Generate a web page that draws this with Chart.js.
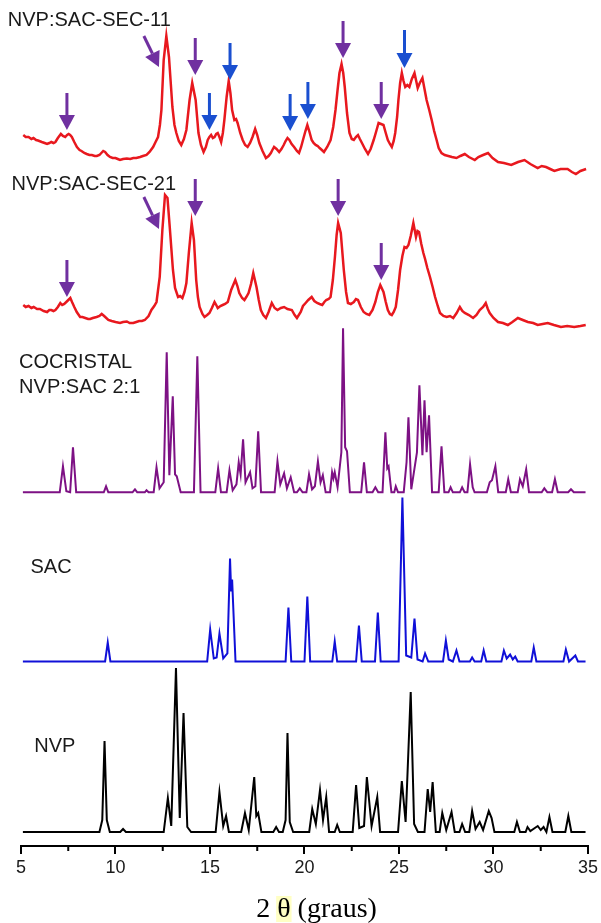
<!DOCTYPE html>
<html lang="pt">
<head>
<meta charset="UTF-8">
<title>DRX NVP:SAC</title>
<script src="https://cdn.jsdelivr.net/npm/chart.js@4.4.0/dist/chart.umd.min.js"></script>
<style>
  body { margin: 0; background: #fff; }
  #box { width: 601px; height: 923px; }
</style>
</head>
<body>
<div id="box"><canvas id="xrd"></canvas></div>
<script>
// 2θ range and ticks
const xMin = 5, xMax = 35;
const majorTicks = [5, 10, 15, 20, 25, 30, 35];
const minorTicks = [7.5, 12.5, 17.5, 22.5, 27.5, 32.5];

// patterns: [2θ, intensity above own baseline]
const nvp = [
  [5.1,0],[9.15,0],[9.3,12],[9.42,91],[9.54,12],[9.7,0],
  [10.25,0],[10.4,3],[10.55,0],
  [12.55,0],[12.77,34],[12.95,6],[13.2,164],[13.4,14],[13.6,119],[13.8,5],[14.0,0],
  [15.3,0],[15.5,40],[15.7,6],[15.85,16],[16.0,0],
  [16.65,0],[16.85,19],[17.05,2],[17.34,55],[17.45,16],[17.55,19],[17.72,0],
  [18.35,0],[18.5,5],[18.65,0],
  [18.85,0],[19.0,12],[19.1,99],[19.22,10],[19.4,0],
  [20.25,0],[20.41,23],[20.6,8],[20.82,42],[20.98,12],[21.15,35],[21.3,0],
  [21.6,0],[21.73,7],[21.87,0],
  [22.55,0],[22.73,47],[22.9,4],[23.15,6],[23.3,55],[23.55,6],[23.85,35],[24.0,0],
  [24.95,0],[25.15,51],[25.35,10],[25.62,140],[25.8,8],[26.0,0],
  [26.35,0],[26.52,43],[26.65,20],[26.78,50],[26.95,0],
  [27.15,0],[27.29,19],[27.5,2],[27.78,20],[27.95,0],
  [28.2,0],[28.34,8],[28.5,0],
  [28.72,0],[28.87,21],[29.05,3],[29.27,10],[29.45,2],[29.75,21],[29.9,14],[30.05,0],
  [31.1,0],[31.24,10],[31.4,0],
  [31.7,0],[31.8,5],[31.95,1],[32.34,6],[32.5,2],[32.65,5],[32.8,0],[32.96,15],[33.12,0],
  [33.8,0],[33.96,16],[34.12,0],[34.87,0]
];

const sac = [
  [5.1,0],[9.45,0],[9.59,19],[9.73,0],
  [14.85,0],[15.01,32],[15.2,3],[15.35,4],[15.5,28],[15.7,3],[15.92,8],[16.06,103],[16.12,70],[16.17,82],[16.35,0],
  [19.0,0],[19.15,54],[19.3,0],
  [20.0,0],[20.15,65],[20.3,0],
  [21.47,0],[21.6,20],[21.73,0],
  [22.73,0],[22.88,36],[23.03,0],
  [23.73,0],[23.88,49],[24.03,0],
  [24.98,0],[25.18,164],[25.38,6],[25.65,4],[25.82,43],[25.98,2],[26.25,0],[26.38,8],[26.55,0],
  [27.33,0],[27.48,21],[27.63,2],[27.85,0],[28.04,11],[28.2,0],
  [28.75,0],[28.87,4],[29.0,0],
  [29.35,0],[29.48,11],[29.62,0],
  [30.42,0],[30.55,11],[30.7,3],[30.88,7],[31.02,2],[31.15,5],[31.28,0],
  [32.0,0],[32.13,14],[32.27,0],
  [33.7,0],[33.83,12],[34.0,0],[34.33,6],[34.47,0],[34.87,0]
];

const cocrystal = [
  [5.1,0],[7.05,0],[7.22,26],[7.4,1],[7.6,0],[7.75,45],[7.92,0],
  [9.38,0],[9.5,6],[9.62,0],
  [10.9,0],[11.03,3],[11.15,0],[11.55,0],[11.64,2],[11.75,0],
  [12.02,0],[12.17,25],[12.33,4],[12.55,10],[12.71,140],[12.85,17],[13.03,96],[13.15,18],[13.24,16],[13.45,0],
  [14.15,0],[14.33,136],[14.5,0],
  [15.28,0],[15.43,24],[15.58,0],
  [15.88,0],[16.03,22],[16.2,2],[16.4,8],[16.52,30],[16.62,18],[16.75,53],[16.88,10],[17.12,20],[17.25,4],[17.4,6],[17.55,61],[17.7,0],
  [18.42,0],[18.57,31],[18.72,8],[18.92,19],[19.07,4],[19.27,15],[19.45,0],
  [19.6,0],[19.75,4],[19.9,0],
  [20.1,0],[20.24,18],[20.4,3],[20.55,6],[20.71,31],[20.85,10],[20.97,17],[21.12,0],
  [21.35,0],[21.46,20],[21.53,14],[21.6,20],[21.75,5],[21.95,40],[22.04,164],[22.15,45],[22.25,41],[22.4,0],
  [23.0,0],[23.15,30],[23.3,0],
  [23.6,0],[23.75,5],[23.9,0],
  [24.13,0],[24.28,60],[24.38,24],[24.45,26],[24.6,0],
  [24.75,0],[24.83,6],[24.95,0],
  [25.25,0],[25.4,30],[25.5,75],[25.65,3],[25.95,40],[26.08,107],[26.24,37],[26.35,92],[26.46,40],[26.59,77],[26.75,0],
  [27.1,0],[27.25,46],[27.4,0],
  [27.62,0],[27.73,5],[27.85,0],[28.22,0],[28.34,5],[28.47,0],
  [28.62,0],[28.76,28],[28.9,5],[29.0,0],
  [29.65,0],[29.8,10],[29.92,12],[30.1,26],[30.25,0],
  [30.65,0],[30.78,13],[30.92,0],
  [31.28,0],[31.4,13],[31.55,6],[31.73,23],[31.88,0],
  [32.55,0],[32.69,4],[32.85,0],
  [33.1,0],[33.25,13],[33.4,0],
  [33.95,0],[34.1,3],[34.25,0],[34.87,0]
];

const sec21 = [
  [5.12,25],[5.25,23],[5.4,24],[5.55,22],[5.67,23],[5.85,21],[6.0,21],[6.2,19],[6.38,18],[6.5,20],[6.6,20],[6.72,19],[6.82,20],
  [6.95,23],[7.08,27],[7.18,25],[7.29,26],[7.45,29],[7.61,32],[7.7,28],[7.82,23],[7.95,18],[8.13,13],[8.25,13],[8.4,12],
  [8.55,11],[8.66,11],[8.8,12],[9.0,13],[9.15,14],[9.27,16],[9.4,14],[9.62,10],[9.8,9],[10.0,8],[10.24,7],[10.4,8],
  [10.6,8.5],[10.75,7],[10.94,7],[11.1,8],[11.25,9],[11.4,9],[11.55,10],[11.75,14],[11.9,20],[12.05,24],[12.17,28],
  [12.34,53],[12.48,100],[12.62,135],[12.75,132],[12.87,103],[13.04,60],[13.15,42],[13.31,33],[13.42,34],[13.54,32],
  [13.65,38],[13.75,47],[13.88,77],[14.03,107],[14.15,90],[14.27,50],[14.36,33],[14.45,23],[14.6,16],[14.71,13],
  [14.85,15],[14.97,17],[15.1,22],[15.24,28],[15.33,25],[15.41,22],[15.55,24],[15.67,25],[15.8,26],[15.94,28],
  [16.12,40],[16.34,50],[16.45,44],[16.55,37],[16.7,32],[16.82,30],[16.92,33],[17.04,37],[17.17,46],[17.29,57],
  [17.46,43],[17.58,30],[17.69,20],[17.82,15],[17.96,12],[18.1,18],[18.27,27],[18.42,22],[18.57,20],[18.75,22],
  [18.92,23],[19.1,21],[19.33,20],[19.48,15],[19.6,12],[19.8,18],[19.92,24],[20.06,27],[20.2,30],[20.38,33],
  [20.52,29],[20.67,27],[20.8,26],[20.94,25],[21.05,28],[21.15,30],[21.28,31],[21.38,33],[21.5,50],[21.61,73],
  [21.7,95],[21.78,107],[21.92,97],[22.08,60],[22.2,38],[22.3,27],[22.45,26],[22.61,28],[22.72,31],[22.83,30],
  [22.98,23],[23.13,18],[23.28,16],[23.43,15],[23.6,20],[23.75,28],[23.88,38],[24.01,45],[24.18,38],[24.3,28],
  [24.41,20],[24.52,16],[24.62,15],[24.72,18],[24.83,23],[24.95,40],[25.06,60],[25.18,74],[25.29,83],[25.4,82],
  [25.5,85],[25.62,94],[25.76,107],[25.9,93],[25.98,99],[26.06,98],[26.18,86],[26.29,77],[26.38,71],[26.5,62],
  [26.64,53],[26.78,43],[26.91,33],[27.05,24],[27.17,17],[27.35,14],[27.52,13],[27.7,14],[27.87,12],[28.05,17],
  [28.22,23],[28.35,19],[28.48,17],[28.7,15],[28.92,12],[29.1,15],[29.27,20],[29.45,23],[29.59,27],[29.7,21],
  [29.8,17],[30.0,12],[30.24,8],[30.5,7],[30.76,5],[31.0,8],[31.29,12],[31.55,10],[31.82,8],[32.1,7],[32.34,5],
  [32.6,6],[32.87,7],[33.2,5],[33.57,3],[33.9,4],[34.27,3],[34.6,4],[34.88,5]
];

const sec11 = [
  [5.12,40],[5.25,38],[5.4,38],[5.55,36],[5.66,37],[5.8,35],[5.9,34.5],[6.1,33],[6.25,32],[6.38,31],[6.5,32],[6.6,33],
  [6.72,32],[6.82,33],[6.95,37],[7.11,41],[7.22,39],[7.34,38],[7.44,40],[7.52,41],[7.6,40],[7.69,38],[7.82,33],
  [7.96,28],[8.1,25],[8.2,24],[8.35,22],[8.48,21],[8.62,20],[8.75,20],[8.9,19],[9.01,19],[9.15,20],[9.25,22],
  [9.35,24],[9.45,23],[9.58,20],[9.71,18],[9.85,17],[10.0,17],[10.12,16],[10.24,15],[10.4,16],[10.6,16.5],[10.78,16],
  [10.94,17],[11.1,17],[11.3,18],[11.45,19],[11.64,20],[11.8,23],[11.99,28],[12.12,33],[12.25,38],[12.35,50],
  [12.43,65],[12.55,115],[12.69,139],[12.83,118],[13.01,68],[13.12,50],[13.22,42],[13.35,34],[13.48,30],[13.62,36],
  [13.75,45],[13.92,75],[14.06,92],[14.24,75],[14.39,42],[14.52,30],[14.66,23],[14.78,28],[14.88,35],[14.97,38],
  [15.06,40],[15.15,37],[15.24,38],[15.33,41],[15.41,42],[15.5,38],[15.59,33],[15.68,42],[15.76,55],[15.88,78],
  [15.99,94],[16.08,82],[16.17,65],[16.29,55],[16.38,56],[16.46,52],[16.6,42],[16.73,35],[16.86,30],[16.99,28],
  [17.12,32],[17.25,38],[17.39,46],[17.5,40],[17.61,32],[17.78,24],[17.96,17],[18.1,19],[18.22,22],[18.3,25],
  [18.39,28],[18.52,26],[18.66,23],[18.78,26],[18.9,30],[19.0,34],[19.1,37],[19.2,35],[19.32,31],[19.45,28],
  [19.6,24],[19.71,22],[19.82,28],[19.92,35],[20.05,44],[20.15,50],[20.25,44],[20.38,35],[20.48,32],[20.59,30],
  [20.7,29],[20.8,27],[20.92,25],[21.03,23],[21.2,28],[21.38,35],[21.52,48],[21.64,65],[21.75,85],[21.85,102],
  [21.96,111],[22.05,102],[22.13,88],[22.25,62],[22.38,42],[22.5,36],[22.61,35],[22.72,38],[22.83,40],[22.93,36],
  [23.04,32],[23.2,26],[23.36,21],[23.5,26],[23.66,35],[23.8,44],[23.92,52],[24.05,51],[24.18,50],[24.3,42],
  [24.41,35],[24.52,31],[24.62,28],[24.72,34],[24.8,42],[24.9,58],[24.97,75],[25.06,92],[25.15,102],[25.24,94],
  [25.33,88],[25.44,90],[25.55,88],[25.68,96],[25.82,102],[25.9,95],[25.99,87],[26.1,92],[26.24,97],[26.35,86],
  [26.46,75],[26.6,65],[26.73,55],[26.86,44],[26.99,35],[27.1,27],[27.25,22],[27.42,20],[27.61,19],[27.8,18],
  [28.04,17],[28.25,19],[28.48,21],[28.7,18],[29.01,15],[29.2,18],[29.45,20],[29.71,22],[29.95,17],[30.24,13],
  [30.55,12],[30.94,10],[31.3,13],[31.64,15],[31.95,11],[32.34,7],[32.55,9],[32.78,8],[33.0,6],[33.22,4],
  [33.55,6],[33.92,6],[34.15,3],[34.36,1],[34.6,4],[34.9,6]
];

// level of each pattern's baseline on the shared y axis
const offsets = { nvp: 14, sac: 184.5, cocrystal: 353.7, sec21: 516, sec11: 671 };

const lineColors = { sec11: "#e8181e", sec21: "#e8181e", cocrystal: "#7d1184", sac: "#1010d8", nvp: "#000000" };
const arrowColors = { purple: "#7030a0", blue: "#1a4fd0" };

// arrows: [pattern, tail 2θ, tail intensity, tip 2θ, tip intensity, colour]
const arrows = [
  ["sec11", 7.43, 82, 7.43, 45, "purple"],
  ["sec11", 11.5, 139, 12.3, 108, "purple"],
  ["sec11", 14.22, 137, 14.22, 100, "purple"],
  ["sec11", 14.97, 82, 14.97, 45, "blue"],
  ["sec11", 16.06, 132, 16.06, 95, "blue"],
  ["sec11", 19.24, 81, 19.24, 44, "blue"],
  ["sec11", 20.18, 93, 20.18, 56, "blue"],
  ["sec11", 22.04, 154, 22.04, 117, "purple"],
  ["sec11", 24.06, 93, 24.06, 56, "purple"],
  ["sec11", 25.29, 145, 25.29, 107, "blue"],
  ["sec21", 7.43, 70, 7.43, 33, "purple"],
  ["sec21", 11.5, 133, 12.3, 101, "purple"],
  ["sec21", 14.22, 151, 14.22, 114, "purple"],
  ["sec21", 21.78, 151, 21.78, 114, "purple"],
  ["sec21", 24.06, 87, 24.06, 50, "purple"]
];

// sample names: [text, 2θ, height on y axis]
const sampleLabels = [
  ["NVP:SAC-SEC-11", 4.3, 820],
  ["NVP:SAC-SEC-21", 4.5, 656],
  ["COCRISTAL", 4.9, 478],
  ["NVP:SAC 2:1", 4.9, 453],
  ["SAC", 5.5, 273],
  ["NVP", 5.7, 94]
];

function toPoints(pairs, key) {
  return pairs.map(function(p) { return { x: p[0], y: p[1] + offsets[key] }; });
}

function makeSet(name, pairs, key, width) {
  return {
    label: name,
    data: toPoints(pairs, key),
    borderColor: lineColors[key],
    borderWidth: width,
    pointRadius: 0,
    tension: 0,
    fill: false
  };
}

const decorPlugin = {
  id: "decor",
  afterDatasetsDraw(chart) {
    const ctx = chart.ctx;
    const xs = chart.scales.x, ys = chart.scales.y;
    ctx.save();
    // arrows
    arrows.forEach(function(a) {
      const off = offsets[a[0]];
      const x0 = xs.getPixelForValue(a[1]), y0 = ys.getPixelForValue(a[2] + off);
      const x1 = xs.getPixelForValue(a[3]), y1 = ys.getPixelForValue(a[4] + off);
      const ang = Math.atan2(y1 - y0, x1 - x0);
      const head = 15, half = 8;
      const bx = x1 - head * Math.cos(ang), by = y1 - head * Math.sin(ang);
      ctx.strokeStyle = arrowColors[a[5]];
      ctx.fillStyle = arrowColors[a[5]];
      ctx.lineWidth = 3;
      ctx.beginPath();
      ctx.moveTo(x0, y0);
      ctx.lineTo(bx, by);
      ctx.stroke();
      ctx.beginPath();
      ctx.moveTo(x1, y1);
      ctx.lineTo(bx + half * Math.sin(ang), by - half * Math.cos(ang));
      ctx.lineTo(bx - half * Math.sin(ang), by + half * Math.cos(ang));
      ctx.closePath();
      ctx.fill();
    });
    // sample names
    ctx.fillStyle = "#1a1a1a";
    ctx.font = "20px 'Liberation Sans', Arial, sans-serif";
    ctx.textAlign = "left";
    ctx.textBaseline = "alphabetic";
    sampleLabels.forEach(function(l) {
      ctx.fillText(l[0], xs.getPixelForValue(l[1]), ys.getPixelForValue(l[2]));
    });
    ctx.restore();
  },
  afterDraw(chart) {
    const ctx = chart.ctx;
    const xs = chart.scales.x;
    const yb = chart.chartArea.bottom;
    ctx.save();
    // minor ticks
    ctx.strokeStyle = "#000";
    ctx.lineWidth = 2;
    minorTicks.forEach(function(v) {
      const px = xs.getPixelForValue(v);
      ctx.beginPath();
      ctx.moveTo(px, yb);
      ctx.lineTo(px, yb + 5);
      ctx.stroke();
    });
    // axis title with highlighted theta
    ctx.font = "28px 'Liberation Serif', 'Times New Roman', serif";
    ctx.textBaseline = "alphabetic";
    ctx.textAlign = "left";
    const p1 = "2 ", p2 = "\u03b8", p3 = " (graus)";
    const w1 = ctx.measureText(p1).width, w2 = ctx.measureText(p2).width, w3 = ctx.measureText(p3).width;
    const cx = (xs.left + xs.right) / 2 + 12;
    let tx = cx - (w1 + w2 + w3) / 2;
    const base = 917;
    ctx.fillStyle = "#000";
    ctx.fillText(p1, tx, base);
    tx += w1;
    ctx.fillStyle = "#ffffc4";
    ctx.fillRect(tx - 1, base - 21, w2 + 2, 26);
    ctx.fillStyle = "#000";
    ctx.fillText(p2, tx, base);
    tx += w2;
    ctx.fillText(p3, tx, base);
    ctx.restore();
  }
};

const myChart = new Chart(document.getElementById("xrd"), {
  type: "line",
  data: {
    datasets: [
      makeSet("NVP:SAC-SEC-11", sec11, "sec11", 2.5),
      makeSet("NVP:SAC-SEC-21", sec21, "sec21", 2.5),
      makeSet("COCRISTAL NVP:SAC 2:1", cocrystal, "cocrystal", 2),
      makeSet("SAC", sac, "sac", 2),
      makeSet("NVP", nvp, "nvp", 2)
    ]
  },
  options: {
    responsive: true,
    maintainAspectRatio: false,
    animation: false,
    layout: { padding: { left: 21, right: 11, top: 0, bottom: 0 } },
    plugins: { legend: { display: false }, tooltip: { enabled: false } },
    scales: {
      x: {
        type: "linear",
        min: xMin,
        max: xMax,
        afterBuildTicks: function(scale) {
          scale.ticks = majorTicks.map(function(v) { return { value: v }; });
        },
        afterFit: function(scale) { scale.height = 77; },
        grid: { drawOnChartArea: false, drawTicks: true, tickLength: 8, color: "#000", lineWidth: 2 },
        border: { display: true, color: "#000", width: 2 },
        ticks: { color: "#1a1a1a", padding: 3, font: { family: "'Liberation Sans', Arial, sans-serif", size: 18 } }
      },
      y: { display: false, min: 0, max: 846 }
    }
  },
  plugins: [decorPlugin]
});
</script>
</body>
</html>
